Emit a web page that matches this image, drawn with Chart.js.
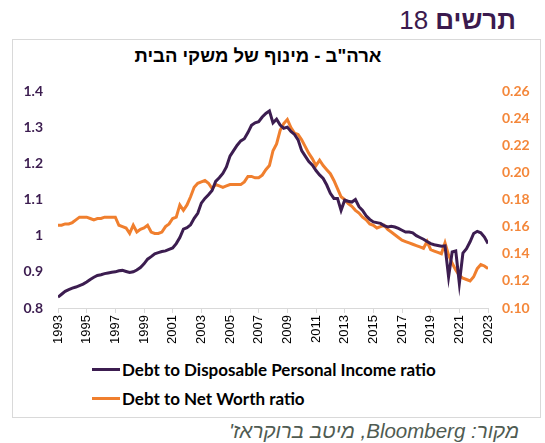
<!DOCTYPE html>
<html>
<head>
<meta charset="utf-8">
<script src="https://cdn.jsdelivr.net/npm/chart.js@4"></script>
<style>
  body { margin: 0; width: 545px; height: 443px; background: #fff; position: relative; overflow: hidden; font-family: 'Liberation Sans', 'DejaVu Sans', sans-serif; }
  .header { position: absolute; right: 29px; top: 5px; font-size: 26px; color: #3b1a4e; direction: rtl; }
  .header b { font-weight: bold; }
  .box { position: absolute; left: 12px; top: 39px; width: 527px; height: 377px; border: 1px solid #d9d9d9; }
  .title { position: absolute; left: 128px; width: 260px; top: 45px; text-align: center; font-weight: bold; font-size: 18.5px; direction: rtl; color: #000; }
  .chartwrap { position: absolute; left: 13px; top: 40px; width: 526px; height: 310px; }
  .legend { position: absolute; left: 92px; top: 355px; font-family: Lato, sans-serif; font-weight: bold; font-size: 17px; color: #000; }
  .legend div { height: 29px; display: flex; align-items: center; }
  .legend span.ln { display: inline-block; width: 28px; height: 3px; margin-right: 2px; }
  .source { position: absolute; right: 26px; top: 419px; font-size: 20.5px; font-style: italic; color: #4f5b52; direction: rtl; }
</style>
</head>
<body>
<div class="header"><b>תרשים</b> 18</div>
<div class="box"></div>
<div class="title">ארה"ב - מינוף של משקי הבית</div>
<div class="chartwrap"><canvas id="leverageChart"></canvas></div>
<div class="legend" id="legend"></div>
<div class="source">מקור: Bloomberg, מיטב ברוקראז'</div>

<script>
// quarterly data, 1993Q1 .. 2023Q1
const startYear = 1993;

const seriesNames = ['Debt to Disposable Personal Income ratio', 'Debt to Net Worth ratio'];
const seriesColors = ['#3c1d50', '#f07f2e'];

// debt to disposable personal income (left axis)
const debtToIncome = [
  0.830, 0.838, 0.846, 0.851,
  0.855, 0.858, 0.862, 0.866,
  0.872, 0.879, 0.885, 0.890,
  0.892, 0.895, 0.897, 0.899,
  0.900, 0.903, 0.904, 0.901,
  0.898, 0.900, 0.905, 0.912,
  0.922, 0.935, 0.942, 0.950,
  0.953, 0.956, 0.958, 0.962,
  0.966, 0.978, 0.995, 1.018,
  1.022, 1.030, 1.048, 1.062,
  1.090, 1.103, 1.113, 1.125,
  1.150, 1.160, 1.172, 1.190,
  1.220, 1.235, 1.250, 1.262,
  1.268, 1.285, 1.305, 1.312,
  1.315, 1.328, 1.338, 1.345,
  1.312, 1.322, 1.306, 1.297,
  1.300, 1.288, 1.280, 1.265,
  1.235, 1.220, 1.205, 1.195,
  1.180, 1.168, 1.158, 1.140,
  1.117, 1.103, 1.103, 1.070,
  1.098, 1.095, 1.093, 1.100,
  1.080, 1.070, 1.055, 1.045,
  1.038, 1.036, 1.034, 1.028,
  1.024, 1.026, 1.024, 1.020,
  1.015, 1.010, 1.010, 1.008,
  1.000, 0.995, 0.990, 0.984,
  0.978, 0.975, 0.973, 0.971,
  0.972, 0.886, 0.955, 0.958,
  0.868, 0.952, 0.964, 0.983,
  1.006, 1.012, 1.008, 0.996,
  0.978
];

// debt to net worth (right axis)
const debtToNetWorth = [
  0.161, 0.161, 0.162, 0.162,
  0.163, 0.165, 0.167, 0.167,
  0.167, 0.166, 0.165, 0.166,
  0.166, 0.167, 0.167, 0.167,
  0.167, 0.161, 0.160, 0.159,
  0.155, 0.161, 0.156, 0.158,
  0.159, 0.161, 0.156, 0.155,
  0.155, 0.156, 0.160, 0.162,
  0.166, 0.167, 0.176, 0.172,
  0.176, 0.182, 0.189, 0.192,
  0.193, 0.194, 0.192, 0.188,
  0.191, 0.190, 0.189, 0.190,
  0.191, 0.191, 0.191, 0.191,
  0.193, 0.197, 0.197, 0.196,
  0.196, 0.198, 0.202, 0.205,
  0.216, 0.221, 0.231, 0.236,
  0.239, 0.233, 0.229, 0.228,
  0.224, 0.219, 0.214, 0.210,
  0.205, 0.209, 0.205, 0.202,
  0.199, 0.194, 0.188, 0.182,
  0.180, 0.177, 0.175, 0.172,
  0.170, 0.167, 0.165, 0.162,
  0.161, 0.159, 0.160, 0.161,
  0.158, 0.156, 0.154, 0.152,
  0.150, 0.149, 0.148, 0.147,
  0.146, 0.145, 0.144, 0.149,
  0.143, 0.142, 0.141, 0.140,
  0.148, 0.139, 0.133, 0.128,
  0.124, 0.122, 0.121, 0.120,
  0.123, 0.129, 0.132, 0.131,
  0.129
];

// left axis range / right axis range
const leftAxis = { min: 0.8, max: 1.4, step: 0.1 };
const rightAxis = { min: 0.10, max: 0.26, step: 0.02 };
const yearAxis = { min: 1993, max: 2023, step: 2 };

function toPoints(values) {
  return values.map((v, i) => ({ x: startYear + i / 4, y: v }));
}

// legend in html
const legendEl = document.getElementById('legend');
seriesNames.forEach((name, i) => {
  const row = document.createElement('div');
  row.innerHTML = '<span class="ln" style="background:' + seriesColors[i] + '"></span>' + name;
  legendEl.appendChild(row);
});

let ctx = document.getElementById('leverageChart').getContext('2d');
new Chart(ctx, {
  type: 'line',
  data: {
    datasets: [
      {
        label: seriesNames[0],
        data: toPoints(debtToIncome),
        borderColor: seriesColors[0],
        backgroundColor: seriesColors[0],
        borderWidth: 3,
        pointRadius: 0,
        yAxisID: 'yLeft'
      },
      {
        label: seriesNames[1],
        data: toPoints(debtToNetWorth),
        borderColor: seriesColors[1],
        backgroundColor: seriesColors[1],
        borderWidth: 3,
        pointRadius: 0,
        yAxisID: 'yRight'
      }
    ]
  },
  options: {
    responsive: true,
    maintainAspectRatio: false,
    animation: false,
    layout: { padding: { top: 51, left: 0, right: 0, bottom: 0 } },
    plugins: {
      legend: { display: false },
      title: { display: false },
      tooltip: { enabled: false }
    },
    scales: {
      x: {
        type: 'linear',
        min: yearAxis.min,
        max: yearAxis.max,
        afterFit: function (scale) { scale.height = 42; },
        ticks: {
          stepSize: yearAxis.step,
          minRotation: 90,
          maxRotation: 90,
          padding: 2,
          color: '#000',
          font: { family: 'Liberation Sans', size: 13 },
          callback: v => String(v)
        },
        grid: { drawOnChartArea: false, drawTicks: true, tickLength: 5, color: '#d9d9d9' },
        border: { display: true, color: '#d9d9d9' }
      },
      yLeft: {
        position: 'left',
        min: leftAxis.min,
        max: leftAxis.max,
        afterFit: function (scale) { scale.width = 45; },
        ticks: {
          stepSize: leftAxis.step,
          padding: 7,
          color: '#3c1d50',
          font: { family: 'Lato', size: 14, weight: 'bold' },
          callback: v => String(+v.toFixed(1))
        },
        grid: { display: false },
        border: { display: false }
      },
      yRight: {
        position: 'right',
        min: rightAxis.min,
        max: rightAxis.max,
        afterFit: function (scale) { scale.width = 51; },
        ticks: {
          stepSize: rightAxis.step,
          padding: 6,
          color: '#f4873a',
          font: { family: 'Lato', size: 14, weight: 'bold' },
          callback: v => v.toFixed(2)
        },
        grid: { display: false },
        border: { display: false }
      }
    }
  }
});
</script>
</body>
</html>
